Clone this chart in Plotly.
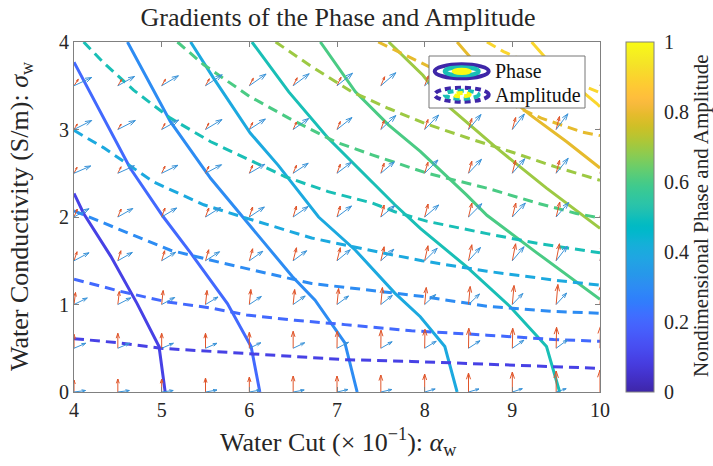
import plotly.graph_objects as go

# ------------------------------------------------------------------ data
contour_levels = [0.1, 0.2, 0.3, 0.4, 0.5, 0.6, 0.7, 0.8, 0.9]

# Phase contours (solid)
phase_x = [
    [4.00, 4.11, 4.42, 4.72, 4.97, 5.04],
    [4.00, 4.30, 4.64, 5.02, 5.33, 5.75, 6.02, 6.12],
    [4.61, 5.10, 5.56, 5.94, 6.49, 6.75, 7.09, 7.23],
    [5.33, 5.59, 6.01, 6.33, 6.79, 7.21, 7.66, 7.95, 8.23, 8.37],
    [6.03, 6.45, 6.90, 7.28, 7.66, 7.95, 8.48, 8.97, 9.39, 9.54],
    [6.81, 7.21, 7.59, 7.95, 8.48, 8.71, 9.28, 10.0],
    [7.59, 7.98, 8.25, 8.82, 9.39, 9.81, 10.0],
    [8.37, 8.48, 8.80, 9.20, 9.62, 10.0],
    [9.22, 9.50, 9.96, 10.0],
]
phase_y = [
    [2.27, 2.04, 1.55, 1.01, 0.52, 0.00],
    [3.77, 3.20, 2.56, 2.00, 1.59, 1.01, 0.52, 0.00],
    [4.00, 3.09, 2.44, 1.98, 1.32, 1.05, 0.56, 0.00],
    [4.00, 3.59, 2.96, 2.59, 2.00, 1.62, 1.13, 0.86, 0.52, 0.00],
    [4.00, 3.43, 2.90, 2.52, 2.14, 1.87, 1.43, 0.98, 0.52, 0.00],
    [4.00, 3.43, 3.05, 2.75, 2.25, 2.02, 1.59, 1.06],
    [4.00, 3.62, 3.28, 2.79, 2.33, 2.02, 1.87],
    [4.00, 3.87, 3.50, 3.17, 2.86, 2.56],
    [4.00, 3.68, 3.30, 3.26],
]

# Amplitude contours (dashed)
amp_x = [
    [4.00, 4.53, 4.99, 5.48, 5.97, 6.56, 7.09, 7.85, 8.90, 10.0],
    [4.00, 4.53, 5.06, 5.56, 5.97, 6.52, 7.09, 7.85, 8.71, 9.47, 10.0],
    [4.00, 4.76, 5.10, 5.71, 5.97, 6.71, 7.40, 7.99, 8.71, 9.47, 10.0],
    [4.00, 4.34, 4.91, 5.48, 5.86, 6.71, 7.47, 7.97, 8.71, 9.47, 10.0],
    [4.11, 4.34, 4.68, 5.10, 5.56, 6.00, 6.41, 6.90, 7.40, 7.66, 8.03, 8.71, 9.28, 10.0],
    [5.18, 5.48, 6.00, 6.45, 6.98, 7.40, 7.85, 8.03, 8.71, 9.28, 9.73, 10.0],
    [6.30, 6.71, 7.17, 7.59, 8.00, 8.50, 9.00, 9.50, 10.0],
    [7.47, 8.01, 8.50, 9.00, 9.33, 9.80, 10.0],
    [8.71, 8.90, 9.40, 9.89, 10.0],
]
amp_y = [
    [0.61, 0.56, 0.50, 0.47, 0.44, 0.40, 0.37, 0.35, 0.31, 0.27],
    [1.29, 1.15, 1.03, 0.96, 0.88, 0.82, 0.77, 0.70, 0.65, 0.60, 0.58],
    [2.07, 1.76, 1.62, 1.47, 1.41, 1.24, 1.16, 1.09, 0.98, 0.92, 0.90],
    [2.99, 2.79, 2.40, 2.14, 2.02, 1.76, 1.60, 1.50, 1.38, 1.28, 1.22],
    [4.00, 3.76, 3.45, 3.13, 2.86, 2.65, 2.46, 2.29, 2.16, 2.06, 1.95, 1.81, 1.70, 1.59],
    [4.00, 3.74, 3.38, 3.13, 2.86, 2.71, 2.56, 2.50, 2.33, 2.16, 2.04, 1.99],
    [4.00, 3.72, 3.43, 3.24, 3.07, 2.90, 2.74, 2.57, 2.42],
    [4.00, 3.74, 3.50, 3.28, 3.13, 2.97, 2.93],
    [4.00, 3.89, 3.67, 3.47, 3.42],
]

# Quiver grid
grid_x = [4.0, 4.5, 5.0, 5.5, 6.0, 6.5, 7.0, 7.5, 8.0, 8.5, 9.0, 9.5, 10.0]
grid_y = [0.0, 0.5, 1.0, 1.5, 2.0, 2.5, 3.0, 3.5]

# Gradient vectors (rows = grid_y, cols = grid_x), arbitrary units
red_u = [
    [0, 0, 0, 0, 0, 0, 0, 0, 0, 0, 0, 0, 0],
    [0, 0, 0, 0, 0, 0, 0.2, 0.2, 0.3, 0.3, 0.4, 0.4, 0.5],
    [1.5, 1.5, 1.5, 1.5, 1.5, 1.5, 1.6, 1.6, 1.6, 1.7, 1.7, 1.7, 1.7],
    [3.0, 3.0, 3.0, 3.2, 3.3, 3.3, 3.3, 3.3, 3.3, 3.3, 3.3, 3.3, 3.3],
    [3.3, 3.3, 3.3, 3.3, 3.3, 3.3, 3.3, 3.3, 3.4, 3.4, 3.5, 3.6, 3.7],
    [3.0, 3.2, 3.3, 3.3, 3.3, 3.3, 3.3, 3.3, 3.3, 3.3, 3.3, 3.4, 3.5],
    [3.3, 3.3, 3.3, 3.3, 3.3, 3.3, 3.3, 3.3, 3.3, 3.3, 3.3, 3.3, 3.3],
    [4.3, 4.0, 3.8, 3.8, 4.0, 4.0, 4.0, 3.8, 3.8, 3.6, 3.6, 3.5, 3.5],
]
red_v = [
    [12, 13, 13, 14, 15, 16, 16, 17, 18, 19, 20, 21, 22],
    [14, 15, 15, 15, 16, 17, 17, 18, 19, 20, 20, 21, 22],
    [12, 13, 14, 14, 15, 15, 16, 17, 17, 18, 19, 20, 21],
    [9, 10, 10, 11, 12, 13, 13, 14, 15, 16, 17, 17, 18],
    [8, 8, 9, 9, 10, 11, 11, 12, 13, 14, 14, 15, 16],
    [6, 6.5, 7, 7, 8, 8, 9, 10, 11, 12, 13, 13, 14],
    [5.5, 5.5, 6, 6.5, 7, 7.5, 8, 9, 10, 11, 12, 13, 14],
    [6.5, 6.5, 6.5, 7, 7.5, 8, 8.5, 9, 10, 11, 12, 12, 13],
]
blue_u = [
    [11.5, 11.5, 11.5, 11.5, 11, 11, 11, 11, 10.5, 10.5, 10, 10, 10],
    [11.7, 11.7, 11.7, 11.5, 11.5, 11.5, 11.5, 11.3, 11.5, 11.5, 11.5, 11.5, 11.5],
    [13.3, 13, 13, 12.5, 12, 12, 11.5, 11.5, 11, 11, 10.5, 10.5, 10],
    [15, 14.5, 14, 14, 13.5, 13.5, 13.3, 13, 12.5, 12, 11.7, 11, 10],
    [15, 15, 15, 15, 15, 15, 14.5, 14, 14, 13.3, 13, 12.5, 12],
    [16.7, 16.5, 16.3, 16, 15.5, 15, 14.5, 13.5, 13.3, 13, 12.5, 12, 11.7],
    [17.7, 17.5, 17, 16.5, 16, 15.5, 15, 15, 14, 12.5, 12, 11.7, 11.7],
    [17.7, 16.7, 16.7, 16.7, 16.7, 16, 15.5, 15, 15, 14, 13, 12.5, 12],
]
blue_v = [
    [1.5, 1.5, 1.5, 2, 2, 2, 2.5, 2.5, 3, 3, 3.3, 3.3, 3.5],
    [5, 5, 5, 5, 5.5, 5.5, 6, 6.5, 7, 7.5, 8, 8.5, 9],
    [6.5, 6.7, 7, 7.5, 8, 8.5, 8.5, 9, 10, 10.5, 11, 11.5, 12],
    [8, 8.3, 8.5, 9, 9.5, 10, 11, 11.5, 12.5, 13.3, 14, 14.5, 15],
    [8.3, 8.5, 9, 9.5, 10, 10.5, 11, 11.5, 12, 13.3, 14, 14.5, 15],
    [7.3, 7.5, 8, 8.5, 9, 10, 11, 11.5, 13.3, 14, 14.5, 15, 15],
    [9, 9, 9.5, 10, 10.5, 11, 12, 14, 14.5, 15, 15.5, 15.7, 16],
    [8.3, 9.3, 10, 11, 11.7, 12, 12.5, 13, 13.3, 14, 15, 15.5, 16],
]

x_ticks = [4, 5, 6, 7, 8, 9, 10]
y_ticks = [0, 1, 2, 3, 4]
cbar_ticks = [0, 0.2, 0.4, 0.6, 0.8, 1]
cbar_labels = ["0", "0.2", "0.4", "0.6", "0.8", "1"]

# ------------------------------------------------------------------ style
PARULA = [
    (0.2422, 0.1504, 0.6603), (0.2504, 0.1650, 0.7076), (0.2578, 0.1818, 0.7511), (0.2647, 0.1978, 0.7952),
    (0.2706, 0.2147, 0.8364), (0.2751, 0.2342, 0.8710), (0.2783, 0.2559, 0.8991), (0.2803, 0.2782, 0.9221),
    (0.2813, 0.3006, 0.9414), (0.2810, 0.3228, 0.9579), (0.2795, 0.3447, 0.9717), (0.2760, 0.3667, 0.9829),
    (0.2699, 0.3892, 0.9906), (0.2602, 0.4123, 0.9952), (0.2440, 0.4358, 0.9988), (0.2206, 0.4603, 0.9973),
    (0.1963, 0.4847, 0.9892), (0.1834, 0.5074, 0.9798), (0.1786, 0.5289, 0.9682), (0.1764, 0.5499, 0.9520),
    (0.1687, 0.5703, 0.9359), (0.1540, 0.5902, 0.9218), (0.1460, 0.6091, 0.9079), (0.1380, 0.6276, 0.8973),
    (0.1248, 0.6459, 0.8883), (0.1113, 0.6635, 0.8763), (0.0952, 0.6798, 0.8598), (0.0689, 0.6948, 0.8394),
    (0.0297, 0.7082, 0.8163), (0.0036, 0.7203, 0.7917), (0.0067, 0.7312, 0.7660), (0.0433, 0.7411, 0.7394),
    (0.0964, 0.7500, 0.7120), (0.1408, 0.7584, 0.6842), (0.1717, 0.7670, 0.6554), (0.1938, 0.7758, 0.6251),
    (0.2161, 0.7843, 0.5923), (0.2470, 0.7918, 0.5567), (0.2906, 0.7973, 0.5188), (0.3406, 0.8008, 0.4789),
    (0.3909, 0.8029, 0.4354), (0.4456, 0.8024, 0.3909), (0.5044, 0.7993, 0.3480), (0.5616, 0.7942, 0.3045),
    (0.6174, 0.7876, 0.2612), (0.6720, 0.7793, 0.2227), (0.7242, 0.7698, 0.1910), (0.7738, 0.7598, 0.1646),
    (0.8203, 0.7498, 0.1535), (0.8634, 0.7406, 0.1596), (0.9035, 0.7330, 0.1774), (0.9393, 0.7288, 0.2100),
    (0.9728, 0.7298, 0.2394), (0.9956, 0.7434, 0.2371), (0.9970, 0.7659, 0.2199), (0.9952, 0.7893, 0.2028),
    (0.9892, 0.8136, 0.1885), (0.9786, 0.8386, 0.1766), (0.9676, 0.8639, 0.1643), (0.9610, 0.8890, 0.1537),
    (0.9597, 0.9135, 0.1423), (0.9628, 0.9373, 0.1265), (0.9691, 0.9606, 0.1064), (0.9769, 0.9839, 0.0805),
]


def parula(t):
    r, g, b = PARULA[int(round(t * 63))]
    return f"rgb({int(round(r * 255))},{int(round(g * 255))},{int(round(b * 255))})"


colorscale = [[i / 63, parula(i / 63)] for i in range(64)]

FONT = "Liberation Serif, Times New Roman, serif"
TXT = "#262626"
AXC = "#808080"
W, H = 713, 466
ML, MR, MT, MB = 74, 113, 42, 74
PW, PH = W - ML - MR, H - MT - MB


def pxx(p):
    return (p - ML) / PW


def pxy(p):
    return (H - MB - p) / PH


fig = go.Figure()

# contours
for lv, xs, ys in zip(contour_levels, phase_x, phase_y):
    fig.add_trace(go.Scatter(x=xs, y=ys, mode="lines", line=dict(color=parula(lv), width=3),
                             showlegend=False, hoverinfo="skip"))
for lv, xs, ys in zip(contour_levels, amp_x, amp_y):
    fig.add_trace(go.Scatter(x=xs, y=ys, mode="lines",
                             line=dict(color=parula(lv), width=3, dash="10px,6px"),
                             showlegend=False, hoverinfo="skip"))

# quivers
QSCALE = 1 / 87.6
ALPHA, BETA = 0.33, 0.33


def quiver_xy(U, V):
    xs, ys = [], []
    for j, y0 in enumerate(grid_y):
        for i, x0 in enumerate(grid_x):
            u = U[j][i] * QSCALE
            v = V[j][i] * QSCALE
            x1, y1 = x0 + u, y0 + v
            xs += [x0, x1, None]
            ys += [y0, y1, None]
            xs += [x1 - ALPHA * (u + BETA * v), x1, x1 - ALPHA * (u - BETA * v), None]
            ys += [y1 - ALPHA * (v - BETA * u), y1, y1 - ALPHA * (v + BETA * u), None]
    return xs, ys


rx, ry = quiver_xy(red_u, red_v)
bx, by = quiver_xy(blue_u, blue_v)
fig.add_trace(go.Scatter(x=rx, y=ry, mode="lines", line=dict(color="#E0552A", width=1),
                         showlegend=False, hoverinfo="skip"))
fig.add_trace(go.Scatter(x=bx, y=by, mode="lines", line=dict(color="#3A93D8", width=1),
                         showlegend=False, hoverinfo="skip"))

# colorbar carrier
fig.add_trace(go.Scatter(
    x=[4, 4], y=[0, 0], mode="markers", showlegend=False, hoverinfo="skip",
    marker=dict(color=[0, 1], colorscale=colorscale, cmin=0, cmax=1, opacity=0, size=1,
                showscale=True,
                colorbar=dict(
                    x=pxx(626), xanchor="left", y=0.5, yanchor="middle",
                    len=1, lenmode="fraction", thickness=28, thicknessmode="pixels",
                    xpad=0, ypad=0, outlinewidth=1, outlinecolor=AXC,
                    tickvals=cbar_ticks, ticktext=cbar_labels,
                    ticks="outside", ticklen=6, tickcolor="rgba(0,0,0,0)",
                    tickfont=dict(family=FONT, size=20, color=TXT),
                ))))

axis_common = dict(showgrid=False, zeroline=False, showline=True, linecolor=AXC, linewidth=1,
                   mirror="ticks", ticks="inside", ticklen=5, tickcolor=AXC,
                   tickfont=dict(family=FONT, size=20, color=TXT))

fig.update_layout(
    width=W, height=H, margin=dict(l=ML, r=MR, t=MT, b=MB, autoexpand=False),
    paper_bgcolor="white", plot_bgcolor="white",
    xaxis=dict(range=[4, 10], tickvals=x_ticks, **axis_common),
    yaxis=dict(range=[0, 4], tickvals=y_ticks, **axis_common),
    title=dict(text="Gradients of the Phase and Amplitude", x=pxx(338), xref="paper", xanchor="center",
               y=1 - 17 / H, yref="container", yanchor="middle",
               font=dict(family=FONT, size=26, color=TXT)),
    showlegend=False,
)

ann = [
    dict(text="Water Cut (× 10<sup>−1</sup>): <i>α</i><sub>w</sub>", x=pxx(338), y=pxy(442),
         xref="paper", yref="paper", showarrow=False, xanchor="center", yanchor="middle",
         font=dict(family=FONT, size=26, color=TXT)),
    dict(text="Water Conductivity (S/m): <i>σ</i><sub>w</sub>", x=pxx(21), y=pxy(216),
         xref="paper", yref="paper", showarrow=False, xanchor="center", yanchor="middle",
         textangle=-90, font=dict(family=FONT, size=26, color=TXT)),
    dict(text="Nondimensional Phase and Amplitude", x=pxx(701), y=pxy(216),
         xref="paper", yref="paper", showarrow=False, xanchor="center", yanchor="middle",
         textangle=-90, font=dict(family=FONT, size=21, color=TXT)),
    dict(text="Phase", x=pxx(493), y=pxy(71), xref="paper", yref="paper", showarrow=False,
         xanchor="left", yanchor="middle", font=dict(family=FONT, size=20, color="#111")),
    dict(text="Amplitude", x=pxx(493), y=pxy(95), xref="paper", yref="paper", showarrow=False,
         xanchor="left", yanchor="middle", font=dict(family=FONT, size=20, color="#111")),
]

shapes = [dict(type="rect", xref="paper", yref="paper", x0=pxx(429), x1=pxx(585), y0=pxy(108), y1=pxy(56),
               fillcolor="white", line=dict(color="#777", width=1), layer="above")]


def ellipse(cx, cy, rx_, ry_, color, dash):
    return dict(type="circle", xref="paper", yref="paper", x0=pxx(cx - rx_), x1=pxx(cx + rx_),
                y0=pxy(cy + ry_), y1=pxy(cy - ry_), line=dict(color=color, width=4, dash=dash),
                layer="above")


for cy, dash in [(71.3, "solid"), (94.7, "6px,4px")]:
    shapes.append(ellipse(461.7, cy, 27, 7, parula(0.0), dash))
    shapes.append(ellipse(461.7, cy, 17, 4, parula(0.5), dash))
    shapes.append(ellipse(461.7, cy, 8, 1.6, parula(1.0), dash))

fig.update_layout(annotations=ann, shapes=shapes)
fig.write_html("out.html", config={"displayModeBar": False},
               post_script="document.body.style.margin='0';")
